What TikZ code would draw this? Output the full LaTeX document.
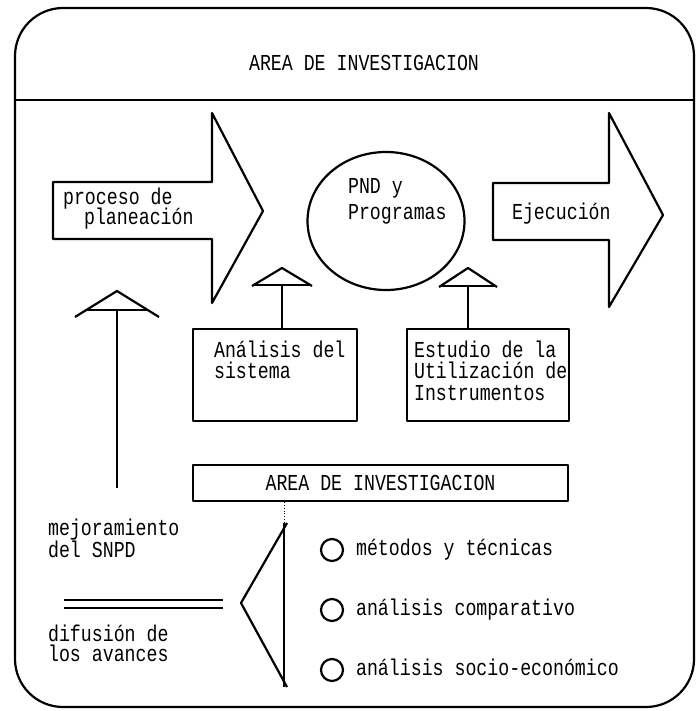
\documentclass[tikz,border=0pt]{standalone}
\usepackage{fontspec}
\setmainfont[FakeStretch=0.8]{Liberation Mono}
\usetikzlibrary{positioning,shapes.geometric}
\newcommand\letra{\fontsize{11.4}{13}\selectfont}
\tikzset{
  lbl/.style={inner sep=0pt, anchor=base west, font=\letra},
  caja/.style={draw, inner sep=0pt, minimum width=82pt, minimum height=46pt, font=\letra},
  bola/.style={draw, circle, inner sep=0pt, minimum size=11pt},
}
\begin{document}
\begin{tikzpicture}[x=0.5pt, y=-0.5pt, line width=1.1pt, line join=round]
\useasboundingbox (0,0) rectangle (697,711);
% marco y cabecera
\draw[rounded corners=24pt] (15,8) rectangle (694,707);
\draw (15,100) -- (694,100);
\node[lbl, anchor=center] (titulo) at (364,63) {AREA DE INVESTIGACION};

% flechas grandes
\draw (53,182) -- (212,182) -- (212,113) -- (263,211) -- (212,303) -- (212,239) -- (53,239) -- cycle;
\node[lbl] (plan1) at (62,205) {proceso de};
\node[lbl] (plan2) at (83,225) {planeación};
\draw (493,183) -- (609,183) -- (609,113) -- (663,215) -- (609,307) -- (609,240) -- (493,240) -- cycle;
\node[lbl] (ejec) at (511,220) {Ejecución};

% PND
\node[draw, ellipse, inner sep=0pt, minimum width=78.5pt, minimum height=69pt] (pnd) at (386,221) {};
\node[lbl] (pnd1) at (347,193) {PND y};
\node[lbl] (pnd2) at (347,220) {Programas};

% cajas
\node[caja] (ana) at (275,375) {};
\node[lbl] (ana1) at (213,357) {Análisis del};
\node[lbl] (ana2) at (213,378) {sistema};
\node[caja, minimum width=81pt] (est) at (488,375) {};
\node[lbl] (est1) at (413,357) {Estudio de la};
\node[lbl] (est2) at (413,378) {Utilización de};
\node[lbl] (est3) at (413,400) {Instrumentos};
\node[caja, minimum width=187.5pt, minimum height=18pt] (area) at (380.5,483) {AREA DE INVESTIGACION};

% triangulos y astas
\foreach \n/\x/\y/\w/\h/\b in {mej/117/291/42/26/19, an/282/268/30/18/17, es/468/268/29/19/18} {
  \draw ({\x-\w},{\y+\h}) -- (\x,\y) -- ({\x+\w},{\y+\h});
  \draw ({\x-\w*\b/\h},{\y+\b}) -- ({\x+\w*\b/\h},{\y+\b});
  \coordinate (t\n) at (\x,{\y+\b});
}
\coordinate (mejfin) at (117,488);
\draw (tmej) -- (mejfin);
\draw (ana.north -| tan) -- (tan);
\draw (est.north -| tes) -- (tes);

% izquierda abajo
\node[lbl] (mej1) at (47,535) {mejoramiento};
\node[lbl] (mej2) at (47,557) {del SNPD};
\draw[double, double distance=3pt, line width=0.9pt] (64,604) -- (223,604);
\node[lbl] (dif1) at (47,641) {difusión de};
\node[lbl] (dif2) at (47,661) {los avances};

% llave
\coordinate (hbar) at (284,523);
\coordinate (hfin) at (284,687);
\coordinate (hsup) at (287,523);
\coordinate (hpun) at (241,603);
\coordinate (hinf) at (287,687);
\draw[thin, densely dotted] (hbar |- area.south) -- (hbar);
\draw (hbar) -- (hfin);
\draw (hsup) -- (hpun) -- (hinf);
\foreach \i/\y/\t in {1/550/{métodos y técnicas}, 2/610/{análisis comparativo}, 3/670/{análisis socio-económico}} {
  \node[bola] (b\i) at (332,\y) {};
  \node[lbl] (it\i) at (355,{\y+5}) {\t};
}
\end{tikzpicture}
\end{document}
